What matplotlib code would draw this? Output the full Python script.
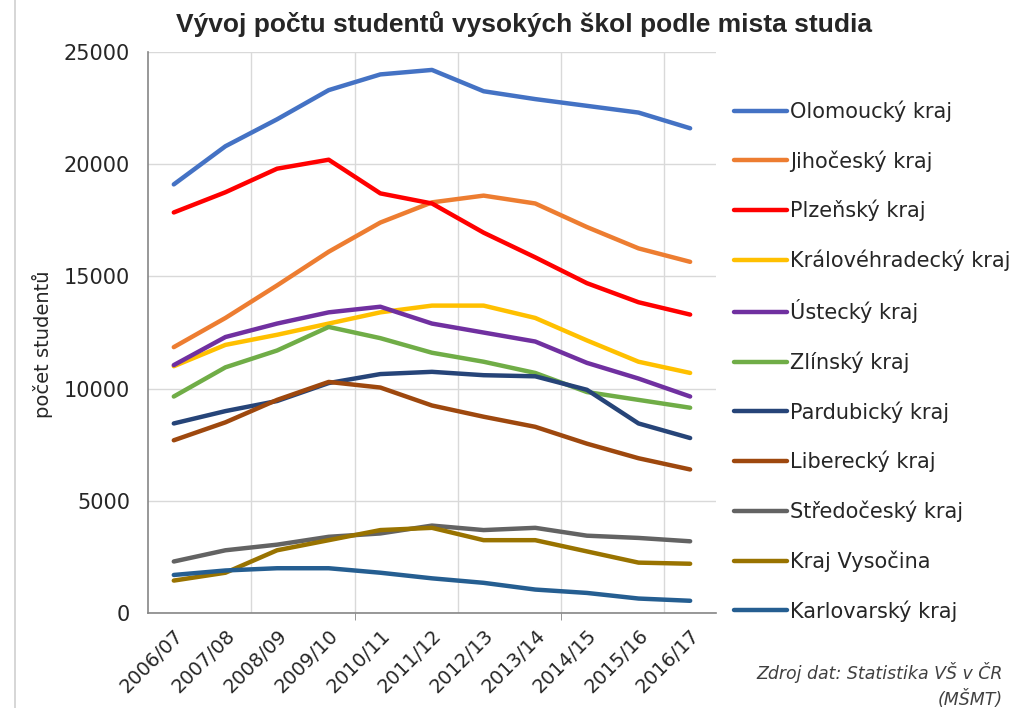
import numpy as np
import matplotlib.pyplot as plt
from matplotlib.patches import Rectangle

plt.rcParams['font.family'] = ['DejaVu Sans']

years = ['2006/07', '2007/08', '2008/09', '2009/10', '2010/11', '2011/12',
         '2012/13', '2013/14', '2014/15', '2015/16', '2016/17']

olomoucky = [19100, 20800, 22000, 23300, 24000, 24200, 23250, 22900, 22600, 22300, 21600]
jihocesky = [11850, 13150, 14600, 16100, 17400, 18300, 18600, 18250, 17200, 16250, 15650]
plzensky = [17850, 18750, 19800, 20200, 18700, 18250, 16950, 15850, 14700, 13850, 13300]
kralovehradecky = [11000, 11950, 12400, 12900, 13400, 13700, 13700, 13150, 12150, 11200, 10700]
ustecky = [11050, 12300, 12900, 13400, 13650, 12900, 12500, 12100, 11150, 10450, 9650]
zlinsky = [9650, 10950, 11700, 12750, 12250, 11600, 11200, 10700, 9850, 9500, 9150]
pardubicky = [8450, 9000, 9450, 10250, 10650, 10750, 10600, 10550, 9950, 8450, 7800]
liberecky = [7700, 8500, 9500, 10300, 10050, 9250, 8750, 8300, 7550, 6900, 6400]
stredocesky = [2300, 2800, 3050, 3400, 3550, 3900, 3700, 3800, 3450, 3350, 3200]
vysocina = [1450, 1800, 2800, 3250, 3700, 3800, 3250, 3250, 2750, 2250, 2200]
karlovarsky = [1700, 1900, 2000, 2000, 1800, 1550, 1350, 1050, 900, 650, 550]

series = [
    ('Olomoucký kraj', olomoucky, '#4472C4'),
    ('Jihočeský kraj', jihocesky, '#ED7D31'),
    ('Plzeňský kraj', plzensky, '#FF0000'),
    ('Královéhradecký kraj', kralovehradecky, '#FFC000'),
    ('Ústecký kraj', ustecky, '#7030A0'),
    ('Zlínský kraj', zlinsky, '#70AD47'),
    ('Pardubický kraj', pardubicky, '#264478'),
    ('Liberecký kraj', liberecky, '#9E480E'),
    ('Středočeský kraj', stredocesky, '#636363'),
    ('Kraj Vysočina', vysocina, '#997300'),
    ('Karlovarský kraj', karlovarsky, '#255E91'),
]

fig = plt.figure(figsize=(10.17, 7.08), dpi=100)
ax = fig.add_axes([0.1455, 0.134, 0.5585, 0.7926])

# thin chart border like in Excel
fig.patches.append(Rectangle((0.015, -0.05), 1.1, 1.2, transform=fig.transFigure,
                             fill=False, edgecolor='#D0D0D0', lw=1.2))

x = np.arange(len(years))
for name, vals, col in series:
    ax.plot(x, vals, color=col, lw=3.2, label=name, solid_capstyle='round')

ax.set_xlim(-0.5, 10.5)
ax.set_ylim(0, 25000)
ax.set_yticks(np.arange(0, 25001, 5000))
ax.tick_params(axis='y', labelsize=15, length=0, pad=13, colors='#262626')
ax.set_xticks(x)
ax.set_xticklabels(years, rotation=45, ha='right', rotation_mode='anchor',
                   fontsize=14, color='#262626')
ax.tick_params(axis='x', length=0, pad=9)
ax.set_xticks([3.5, 7.5], minor=True)
ax.tick_params(axis='x', which='minor', length=5, color='#868686')

ax.yaxis.grid(True, color='#D9D9D9', lw=1)
for b in np.arange(1.5, 10, 2):
    ax.axvline(b, color='#D9D9D9', lw=1, zorder=0)
ax.set_axisbelow(True)

for s in ['top', 'right']:
    ax.spines[s].set_visible(False)
ax.spines['left'].set_color('#868686')
ax.spines['bottom'].set_color('#868686')
ax.spines['left'].set_linewidth(1.2)
ax.spines['bottom'].set_linewidth(1.2)

ax.set_ylabel('počet studentů', fontsize=14, color='#262626')
ax.yaxis.set_label_coords(-0.168, 0.48)

fig.text(0.515, 0.966, 'Vývoj počtu studentů vysokých škol podle mista studia',
         ha='center', va='center', fontsize=19, fontweight='bold', color='#262626',
         family=['Liberation Sans', 'DejaVu Sans'])

leg = ax.legend(loc='upper left', bbox_to_anchor=(0.714, 0.870), bbox_transform=fig.transFigure,
                frameon=False, fontsize=15, handlelength=2.5, handletextpad=0.15,
                labelspacing=1.355, borderaxespad=0)
for t in leg.get_texts():
    t.set_color('#262626')

fig.text(0.986, 0.032, 'Zdroj dat: Statistika VŠ v ČR\n(MŠMT)', ha='right', va='center',
         fontsize=12.5, style='italic', color='#404040', family=['DejaVu Sans'],
         linespacing=1.45)

fig.savefig('out.png', dpi=100)
